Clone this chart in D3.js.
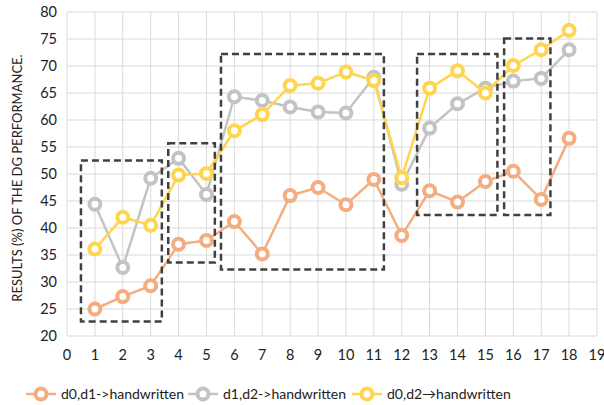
<!DOCTYPE html>
<html>
<head>
<meta charset="utf-8">
<script src="https://cdn.jsdelivr.net/npm/d3@7"></script>
<style>
  body { margin: 0; background: #fff; }
  svg text { font-family: Lato, "Open Sans", sans-serif; fill: #222; }
</style>
</head>
<body>
<svg id="chart" width="604" height="405"></svg>
<script>
// data
const xs = [1, 2, 3, 4, 5, 6, 7, 8, 9, 10, 11, 12, 13, 14, 15, 16, 17, 18];
const d01 = [25.0, 27.3, 29.3, 37.0, 37.7, 41.2, 35.2, 46.0, 47.5, 44.3, 49.0, 38.6, 46.9, 44.8, 48.6, 50.5, 45.3, 56.6];
const d12 = [44.4, 32.7, 49.2, 52.9, 46.2, 64.3, 63.6, 62.4, 61.5, 61.3, 67.9, 48.1, 58.5, 63.0, 65.9, 67.2, 67.7, 73.0];
const d02 = [36.1, 42.0, 40.5, 49.8, 50.1, 58.0, 61.0, 66.4, 66.8, 68.9, 67.3, 49.3, 65.9, 69.1, 65.0, 70.1, 73.0, 76.6];
const seriesNames = ["d0,d1->handwritten", "d1,d2->handwritten", "d0,d2\u2192handwritten"];
const seriesColors = ["#F4AD80", "#C3C3C3", "#FFD54F"];
// dashed group boxes: [x0, x1, y0, y1] in data units
const boxes = [
    [0.5, 3.4, 22.7, 52.5],
    [3.63, 5.3, 33.6, 55.7],
    [5.52, 11.36, 32.3, 72.2],
    [12.55, 15.43, 42.4, 72.2],
    [15.67, 17.33, 42.4, 75.1]
];
const xTicks = d3.range(0, 20);
const yTicks = d3.range(20, 81, 5);

const svg = d3.select("#chart");
const margin = { top: 12, right: 7, bottom: 69, left: 67 };
const width = 604 - margin.left - margin.right;
const height = 405 - margin.top - margin.bottom;

const x = d3.scaleLinear().domain([0, 19]).range([0, width]);
const y = d3.scaleLinear().domain([20, 80]).range([height, 0]);

const g = svg.append("g").attr("transform", `translate(${margin.left},${margin.top})`);

// grid
g.selectAll(".vgrid").data(xTicks).enter().append("line")
    .attr("x1", d => x(d)).attr("x2", d => x(d))
    .attr("y1", 0).attr("y2", height)
    .style("stroke", "#d9d9d9").style("stroke-width", 1);
g.selectAll(".hgrid").data(yTicks).enter().append("line")
    .attr("x1", 0).attr("x2", x(19))
    .attr("y1", d => y(d)).attr("y2", d => y(d))
    .style("stroke", "#d9d9d9").style("stroke-width", 1);

// tick labels
g.selectAll(".xlab").data(xTicks).enter().append("text")
    .attr("x", d => x(d)).attr("y", height + 24)
    .attr("text-anchor", "middle")
    .style("font-size", "14.5px")
    .text(d => d);
g.selectAll(".ylab").data(yTicks).enter().append("text")
    .attr("x", -10).attr("y", d => y(d) + 5)
    .attr("text-anchor", "end")
    .style("font-size", "14.5px")
    .text(d => d);

// y axis title
svg.append("text")
    .attr("transform", `translate(22,${margin.top + height / 2 + 4}) rotate(-90)`)
    .attr("text-anchor", "middle")
    .style("font-size", "13px")
    .text("RESULTS (%) OF THE DG PERFORMANCE.");

// series
const allSeries = [d01, d12, d02];
const line = d3.line().x((d, i) => x(xs[i])).y(d => y(d));

allSeries.forEach((vals, k) => {
    g.append("path")
        .datum(vals)
        .attr("d", line)
        .style("fill", "none")
        .style("stroke", seriesColors[k])
        .style("stroke-width", 2.5);
    g.selectAll(".pt" + k).data(vals).enter().append("circle")
        .attr("cx", (d, i) => x(xs[i]))
        .attr("cy", d => y(d))
        .attr("r", 5.5)
        .style("fill", "#fff")
        .style("stroke", seriesColors[k])
        .style("stroke-width", 4);
});

// dashed boxes
g.selectAll(".box").data(boxes).enter().append("rect")
    .attr("x", d => x(d[0]))
    .attr("y", d => y(d[3]))
    .attr("width", d => x(d[1]) - x(d[0]))
    .attr("height", d => y(d[2]) - y(d[3]))
    .style("fill", "none")
    .style("stroke", "#404040")
    .style("stroke-width", 2.5)
    .style("stroke-dasharray", "7,4");

// legend
const legendX = [26, 188, 352];
const legend = svg.selectAll(".legend").data(seriesNames).enter().append("g")
    .attr("transform", (d, i) => `translate(${legendX[i]},394)`);
legend.append("line")
    .attr("x1", 0).attr("x2", 30).attr("y1", 0).attr("y2", 0)
    .style("stroke", (d, i) => seriesColors[i])
    .style("stroke-width", 2.5);
legend.append("circle")
    .attr("cx", 15).attr("cy", 0).attr("r", 5.5)
    .style("fill", "#fff")
    .style("stroke", (d, i) => seriesColors[i])
    .style("stroke-width", 4);
legend.append("text")
    .attr("x", 35).attr("y", 5)
    .style("font-size", "14px")
    .text(d => d);
</script>
</body>
</html>
